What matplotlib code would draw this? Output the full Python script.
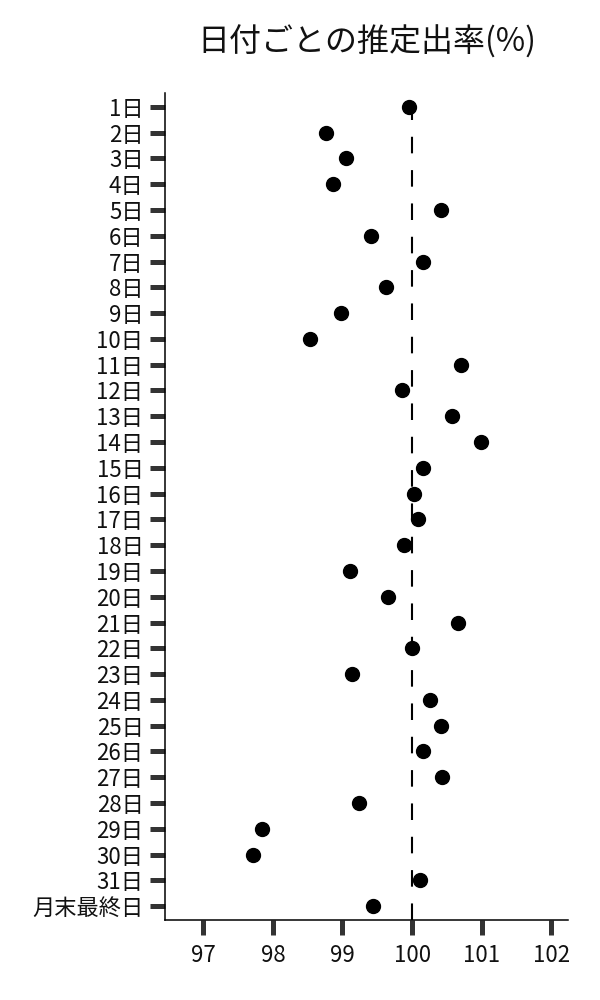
import matplotlib
matplotlib.use("Agg")
import matplotlib.pyplot as plt

plt.rcParams['font.family'] = ['Noto Sans CJK JP', 'DejaVu Sans']

categories = [f"{i}日" for i in range(1, 32)] + ["月末最終日"]
values = [99.95, 98.76, 99.05, 98.86, 100.41, 99.41, 100.15, 99.62, 98.98, 98.54,
          100.70, 99.85, 100.58, 100.99, 100.15, 100.03, 100.08, 99.88, 99.11, 99.65,
          100.66, 100.00, 99.13, 100.25, 100.42, 100.16, 100.43, 99.23, 97.85, 97.71,
          100.11, 99.44]
x_ticks = [97, 98, 99, 100, 101, 102]
ref_value = 100
title = "日付ごとの推定出率(%)"

fig = plt.figure(figsize=(6, 10), dpi=100)
ax = fig.add_axes([0.275, 0.08, 0.6717, 0.827])

ypos = list(range(len(categories)))
ax.axvline(ref_value, color='black', lw=1.5, linestyle=(0, (7.95, 8.05)), zorder=1)
ax.plot(values, ypos, 'o', color='black', markersize=10, zorder=3, linestyle='none')

ax.set_ylim(len(categories) - 1 + 0.54, -0.54)
ax.set_xlim(96.45, 102.24)
ax.set_yticks(ypos)
ax.set_yticklabels(categories)
ax.set_xticks(x_ticks)
ax.set_xticklabels([str(t) for t in x_ticks])

for s in ['top', 'right']:
    ax.spines[s].set_visible(False)
for s in ['left', 'bottom']:
    ax.spines[s].set_linewidth(1.1)
    ax.spines[s].set_color('black')

ax.tick_params(axis='both', which='major', direction='out', length=10.5, width=3.6,
               color='#333333', labelsize=16, labelcolor='#111111')
ax.tick_params(axis='y', pad=5)
ax.tick_params(axis='x', pad=7)

fig.text(0.5 * (0.275 + 0.9467), 1 - 42 / 1000, title, ha='center', va='center',
         fontsize=23, color='#111111')

fig.savefig("out.png", dpi=100)
